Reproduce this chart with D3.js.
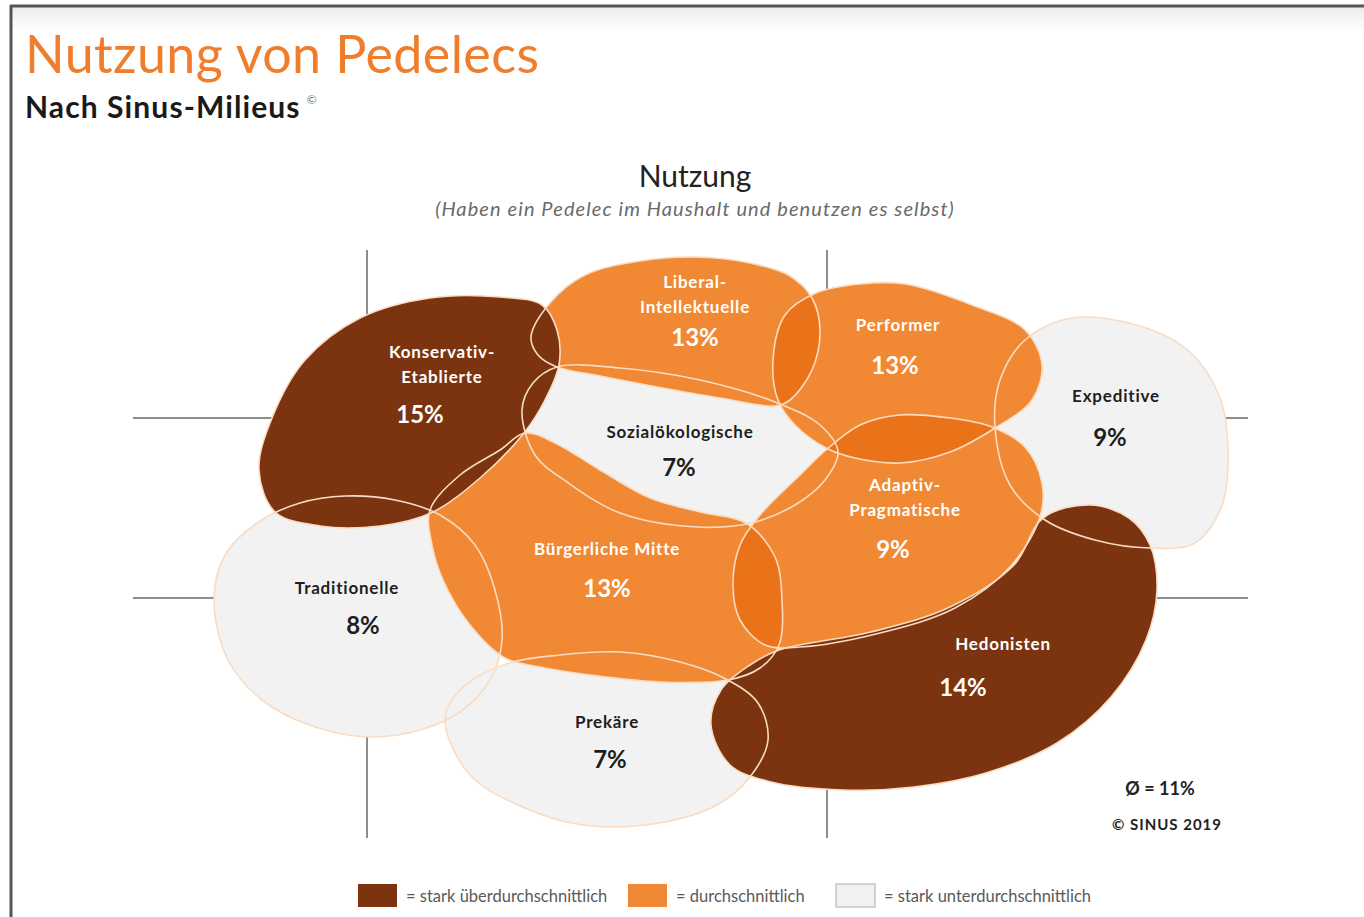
<!DOCTYPE html>
<html>
<head>
<meta charset="utf-8">
<script src="https://cdn.jsdelivr.net/npm/d3@7/dist/d3.min.js"></script>
<style>
  body { margin: 0; background: #fff; }
  svg text { font-family: Lato, "Open Sans", sans-serif; }
</style>
</head>
<body>
<div id="viz"></div>
<script>
// milieus (Sinus), share using a pedelec
var milieus = ["Konservativ-Etablierte", "Liberal-Intellektuelle", "Performer", "Expeditive",
  "Sozialökologische", "Adaptiv-Pragmatische", "Bürgerliche Mitte", "Traditionelle", "Prekäre", "Hedonisten"];
var nameLines = [["Konservativ-", "Etablierte"], ["Liberal-", "Intellektuelle"], ["Performer"], ["Expeditive"],
  ["Sozialökologische"], ["Adaptiv-", "Pragmatische"], ["Bürgerliche Mitte"], ["Traditionelle"], ["Prekäre"], ["Hedonisten"]];
var share = [15, 13, 13, 9, 7, 9, 13, 8, 7, 14];
var level = [2, 1, 1, 0, 0, 1, 1, 0, 0, 2];   // 0 = stark unter, 1 = durchschnitt, 2 = stark über
var average = 11;

var levelLabels = ["= stark überdurchschnittlich", "= durchschnittlich", "= stark unterdurchschnittlich"];
var levelOrder = [2, 1, 0];

// milieu outlines in the social space (x: Grundorientierung, y: soziale Lage)
var outlines = [
  [[12.4,36.5],[13.7,41.7],[17.0,47.5],[22.5,51.7],[29.5,53.7],[36.5,53.8],[40.7,53.0],[42.2,50.5],[42.4,47.0],
   [41.0,43.5],[38.9,40.2],[34.5,35.7],[29.6,32.2],[24.5,30.9],[18.5,30.9],[14.0,32.3]],
  [[39.6,49.8],[41.5,53.2],[45.0,56.0],[50.5,57.4],[55.9,57.8],[61.5,57.2],[65.5,55.9],[67.7,53.7],[68.5,50.5],
   [67.7,46.5],[65.5,43.5],[64.0,42.9],[58.5,43.7],[52.2,44.8],[46.5,45.9],[42.2,46.8],[40.3,48.0]],
  [[63.8,47.5],[65.0,52.0],[68.1,54.2],[72.5,55.1],[77.0,55.1],[83.7,53.0],[89.0,50.5],[90.7,47.0],[89.7,43.5],
   [86.0,40.7],[81.5,38.3],[76.5,37.2],[72.0,37.7],[69.1,38.7],[66.0,41.0],[64.3,43.5]],
  [[86.0,40.8],[86.5,45.5],[89.0,49.5],[93.7,51.7],[100.5,50.9],[105.5,48.3],[108.5,43.7],[109.3,38.5],
   [108.7,33.0],[106.0,29.2],[101.5,28.7],[96.0,29.5],[91.0,31.5],[87.5,35.0]],
  [[38.7,42.5],[39.8,45.2],[42.2,46.8],[48.5,46.7],[56.5,45.5],[64.0,43.3],[68.5,41.0],[70.3,38.3],[69.0,35.5],
   [66.0,33.0],[61.6,31.2],[56.2,30.8],[48.5,32.2],[43.2,35.3],[40.0,38.0]],
  [[59.8,25.0],[60.5,29.0],[62.5,32.0],[66.5,36.0],[69.1,38.5],[72.5,41.0],[76.4,42.0],[81.5,41.7],[85.7,40.8],
   [89.0,38.8],[90.7,35.2],[90.5,31.8],[87.5,26.8],[82.0,22.7],[74.5,20.2],[66.5,18.8],[63.0,19.0],[60.5,21.5]],
  [[29.5,32.5],[32.5,36.0],[36.5,38.5],[39.0,40.2],[42.0,39.2],[46.5,36.5],[51.5,33.7],[56.5,32.3],[61.1,31.2],
   [64.0,27.8],[64.7,23.5],[64.4,19.0],[62.5,16.7],[59.3,15.5],[52.5,15.3],[45.5,16.0],[40.5,16.8],[37.0,17.7],
   [33.5,21.0],[30.8,25.5],[29.7,29.0]],
  [[7.9,23.5],[9.0,28.0],[12.2,31.2],[16.5,33.2],[21.0,33.9],[26.0,33.5],[30.5,32.0],[34.0,29.0],[36.0,24.5],
   [36.7,19.5],[35.5,15.5],[32.5,12.3],[28.5,10.5],[23.7,9.8],[18.0,10.8],[12.7,13.5],[9.3,17.5]],
  [[31.0,11.5],[32.5,14.5],[37.1,17.1],[42.5,18.0],[48.6,18.3],[54.5,17.3],[58.9,15.7],[62.3,13.2],[63.3,9.5],
   [61.5,5.8],[58.2,3.0],[52.4,1.2],[44.8,1.0],[39.0,2.7],[33.5,6.0]],
  [[57.6,11.0],[58.6,14.5],[61.5,17.0],[64.4,18.5],[73.6,20.3],[81.5,22.8],[87.9,27.0],[90.8,31.7],[95.5,33.0],
   [99.4,31.7],[101.5,29.0],[102.2,24.5],[101.1,19.5],[97.6,13.8],[92.2,9.2],[85.1,6.2],[77.9,4.8],[70.8,4.5],
   [63.6,5.3],[59.5,7.0]]
];
var nameAt = [[30.7,48.4],[56.0,55.4],[76.3,51.1],[98.1,44.0],[54.5,40.4],[77.0,35.1],[47.2,28.7],[21.2,24.8],[47.2,11.4],[86.8,19.2]];
var shareAt = [[28.5,42.2],[56.0,49.9],[76.0,47.1],[97.5,39.9],[54.4,36.9],[75.8,28.7],[47.2,24.8],[22.8,21.1],[47.5,7.7],[82.8,14.9]];

var gridX = [23.2, 69.2];
var gridY = [41.7, 23.7];

var W = 1364, H = 917;
var fillColor = ["#f2f2f2", "#f18833", "#7c3410"];
var overlapOrange = "#ea7319";
var textColor = ["#1e1e1e", "#ffffff", "#ffffff"];

var svg = d3.select("#viz").append("svg").attr("width", W).attr("height", H);

var xs = d3.scaleLinear().domain([0, 111]).range([135, 1245]);
var ys = d3.scaleLinear().domain([0, 58.5]).range([835, 250]);

// frame of the slide
var defs = svg.append("defs");
var grad = defs.append("linearGradient").attr("id", "topfade").attr("x1", 0).attr("x2", 0).attr("y1", 0).attr("y2", 1);
grad.append("stop").attr("offset", 0).attr("stop-color", "#ececec");
grad.append("stop").attr("offset", 1).attr("stop-color", "#ffffff");
svg.append("rect").attr("x", 12).attr("y", 7).attr("width", W - 12).attr("height", 24).attr("fill", "url(#topfade)");
svg.append("line").attr("x1", 10).attr("x2", W).attr("y1", 6).attr("y2", 6).attr("stroke", "#555").attr("stroke-width", 3);
svg.append("line").attr("x1", 11).attr("x2", 11).attr("y1", 5).attr("y2", H).attr("stroke", "#555").attr("stroke-width", 3);

// titles
svg.append("text").attr("x", 25).attr("y", 73).attr("font-size", 52).attr("letter-spacing", 0.4)
  .attr("fill", "#ef7d2c").text("Nutzung von Pedelecs");
var sub = svg.append("text").attr("x", 25).attr("y", 118).attr("font-size", 30).attr("font-weight", 700)
  .attr("letter-spacing", 1.1).attr("fill", "#1a1a1a");
sub.append("tspan").text("Nach Sinus-Milieus");
sub.append("tspan").attr("font-size", 12).attr("dy", -14).attr("dx", 6).attr("font-weight", 400).attr("fill", "#777").text("©");

svg.append("text").attr("x", 695).attr("y", 187).attr("text-anchor", "middle").attr("font-size", 30).attr("fill", "#222").text("Nutzung");
svg.append("text").attr("x", 695).attr("y", 216).attr("text-anchor", "middle").attr("font-size", 20).attr("font-style", "italic")
  .attr("letter-spacing", 1.1).attr("fill", "#6a6a6a").text("(Haben ein Pedelec im Haushalt und benutzen es selbst)");

// grid of the milieu map
var grid = svg.append("g").attr("stroke", "#8e8e8e").attr("stroke-width", 2);
grid.selectAll(".vx").data(gridX).enter().append("line")
  .attr("x1", function (d) { return xs(d); }).attr("x2", function (d) { return xs(d); })
  .attr("y1", ys(58.5)).attr("y2", ys(-0.3));
grid.selectAll(".hy").data(gridY).enter().append("line")
  .attr("x1", xs(-0.2)).attr("x2", xs(111.3))
  .attr("y1", function (d) { return ys(d); }).attr("y2", function (d) { return ys(d); });

var blob = d3.line()
  .x(function (d) { return xs(d[0]); })
  .y(function (d) { return ys(d[1]); })
  .curve(d3.curveCatmullRomClosed.alpha(0.5));

var idx = d3.range(milieus.length);

idx.forEach(function (i) {
  defs.append("clipPath").attr("id", "clip" + i).append("path").attr("d", blob(outlines[i]));
});

// fills: light, then average, then strong
[0, 1].forEach(function (lv) {
  svg.append("g").selectAll("path").data(idx.filter(function (i) { return level[i] === lv; })).enter().append("path")
    .attr("d", function (i) { return blob(outlines[i]); })
    .attr("fill", fillColor[lv]);
});

// overlapping orange milieus get a darker tone
var oranges = idx.filter(function (i) { return level[i] === 1; });
var ov = svg.append("g");
oranges.forEach(function (a) {
  oranges.forEach(function (b) {
    if (a < b) {
      ov.append("g").attr("clip-path", "url(#clip" + b + ")")
        .append("path").attr("d", blob(outlines[a])).attr("fill", overlapOrange);
    }
  });
});

svg.append("g").selectAll("path").data(idx.filter(function (i) { return level[i] === 2; })).enter().append("path")
  .attr("d", function (i) { return blob(outlines[i]); })
  .attr("fill", fillColor[2]);

// outlines on top
svg.append("g").selectAll("path").data(idx).enter().append("path")
  .attr("d", function (i) { return blob(outlines[i]); })
  .attr("fill", "none").attr("stroke", "#f9dcc3").attr("stroke-width", 1.6);

// labels
var labels = svg.append("g").attr("text-anchor", "middle");
idx.forEach(function (i) {
  var t = labels.append("text")
    .attr("x", xs(nameAt[i][0])).attr("y", ys(nameAt[i][1]))
    .attr("font-size", 17).attr("font-weight", 700).attr("letter-spacing", 0.8).attr("fill", textColor[level[i]])
    .attr("dominant-baseline", "central");
  nameLines[i].forEach(function (s, k) {
    t.append("tspan").attr("x", xs(nameAt[i][0])).attr("dy", k === 0 ? 0 : 25).text(s);
  });
  labels.append("text")
    .attr("x", xs(shareAt[i][0])).attr("y", ys(shareAt[i][1]))
    .attr("font-size", 24).attr("font-weight", 700).attr("fill", textColor[level[i]])
    .attr("dominant-baseline", "central")
    .text(share[i] + "%");
});

svg.append("text").attr("x", 1160).attr("y", 788).attr("text-anchor", "middle").attr("dominant-baseline", "central")
  .attr("font-size", 18).attr("font-weight", 700).attr("fill", "#222").text("Ø = " + average + "%");
svg.append("text").attr("x", 1167).attr("y", 824).attr("text-anchor", "middle").attr("dominant-baseline", "central")
  .attr("font-size", 15).attr("font-weight", 700).attr("letter-spacing", 1).attr("fill", "#222").text("© SINUS 2019");

// legend
var legX = [358, 628, 836];
var legend = svg.append("g").selectAll("g").data(levelOrder).enter().append("g")
  .attr("transform", function (d, k) { return "translate(" + legX[k] + ",884)"; });
legend.append("rect").attr("width", 39).attr("height", 23)
  .attr("fill", function (d) { return fillColor[d]; })
  .attr("stroke", function (d) { return d === 0 ? "#c4c4c4" : "none"; }).attr("stroke-width", 1.5);
legend.append("text").attr("x", 48).attr("y", 12).attr("dominant-baseline", "central")
  .attr("font-size", 16.5).attr("fill", "#5a5a5a")
  .text(function (d, k) { return levelLabels[k]; });
</script>
</body>
</html>
